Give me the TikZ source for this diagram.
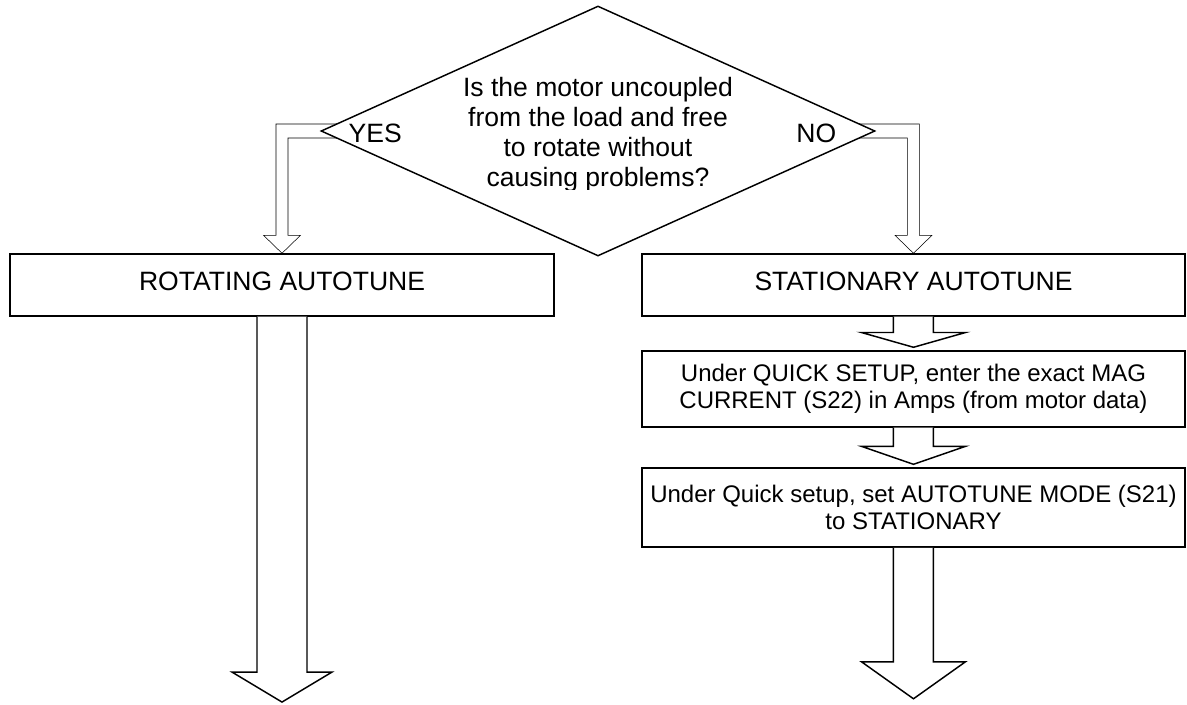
\documentclass[tikz,border=0pt]{standalone}
\usepackage{fontspec}
\setmainfont{Liberation Sans}
\usetikzlibrary{shapes.geometric}
\usetikzlibrary {positioning}
\usetikzlibrary{calc,backgrounds}

\begin{document}
\begin{tikzpicture}[x=0.75pt ,y=-0.75pt ,on grid ,line width=1.1pt ,
    decision/.style ={diamond ,draw ,fill=white ,inner sep=0pt ,minimum width=415.5pt ,minimum height=187.5pt},
    question/.style ={align=center ,inner sep=0pt ,font=\fontsize{19.9}{22.5}\selectfont},
    answer/.style ={inner sep=0pt ,font=\fontsize{19.9}{22.5}\selectfont},
    tunebox/.style ={rectangle ,draw ,inner sep=0pt ,minimum width=408pt ,minimum height=46.5pt ,text depth=6pt ,font=\fontsize{19.9}{22.5}\selectfont},
    action/.style ={rectangle ,draw ,align=center ,inner sep=0pt ,minimum width=407.25pt ,font=\fontsize{18}{20.25}\selectfont},
    blockarrow/.style ={draw ,fill=white ,line join=miter}]
    \useasboundingbox (0,0) rectangle (1187,704);
    \node[decision] (q) at (598,131) {};
    % the question text is cut just below its last baseline
    \begin{scope}
    \clip ($(q.north)+(-200,0)$) rectangle ($(q.center)+(200,58)$);
    \node[question] (qtext) at ($(q.center)+(0,4)$) {Is the motor uncoupled\\from the load and free\\to rotate without\\causing problems?};
    \end{scope}
    \node[answer ,anchor=base] (yes) at ($(q.west)+(55,11)$) {YES};
    \node[answer ,anchor=base] (no) at ($(q.east)+(-59.5,11)$) {NO};
    \node[tunebox] (rot) [below left =115.5pt and 237pt of q] {ROTATING AUTOTUNE};
    \node[tunebox ,minimum width=407.25pt] (stat) [below right =115.5pt and 236.6pt of q] {STATIONARY AUTOTUNE};
    \node[action ,minimum height=57pt] (setmag) [below =78pt of stat] {Under QUICK SETUP, enter the exact MAG\\CURRENT (S22) in Amps (from motor data)};
    \node[action ,minimum height=59.25pt] (setmode) [below =88.9pt of setmag] {Under Quick setup, set AUTOTUNE MODE (S21)\\to STATIONARY};
    \coordinate[below =289pt of rot.south] (rotend);
    \coordinate[below =113.25pt of setmode.south] (modeend);

    % thin bent arrows run behind the diamond
    \begin{scope}[on background layer]
    \draw[blockarrow] ($(q.west)+(30,-7)$) -| ($(rot.north)+(-6,-18)$) -- ++(-12.5,0) -- (rot.north) -- ++(18.5,-18) -- ++(-12.5,0) |- ($(q.west)+(30,7)$) -- cycle;
    \draw[blockarrow] ($(q.east)+(-30,-7)$) -| ($(stat.north)+(6,-18)$) -- ++(12.5,0) -- (stat.north) -- ++(-18.5,-18) -- ++(12.5,0) |- ($(q.east)+(-30,7)$) -- cycle;
    \end{scope}

    \foreach \a/\b in {stat/setmag, setmag/setmode}
    \draw[blockarrow] ($(\a.south)+(-20,0)$) |- ($(\a.south)!.47!(\b.north)+(-52,0)$) -- ($(\b.north)+(0,-3)$) -- ($(\a.south)!.47!(\b.north)+(52,0)$) -| ($(\a.south)+(20,0)$);

    \draw[blockarrow] ($(rot.south)+(-25,0)$) |- ($(rotend)+(-50,-30)$) -- (rotend) -- ($(rotend)+(50,-30)$) -| ($(rot.south)+(25,0)$);
    \draw[blockarrow] ($(setmode.south)+(-20,0)$) |- ($(modeend)+(-52,-37)$) -- (modeend) -- ($(modeend)+(52,-37)$) -| ($(setmode.south)+(20,0)$);
\end{tikzpicture}
\end{document}
